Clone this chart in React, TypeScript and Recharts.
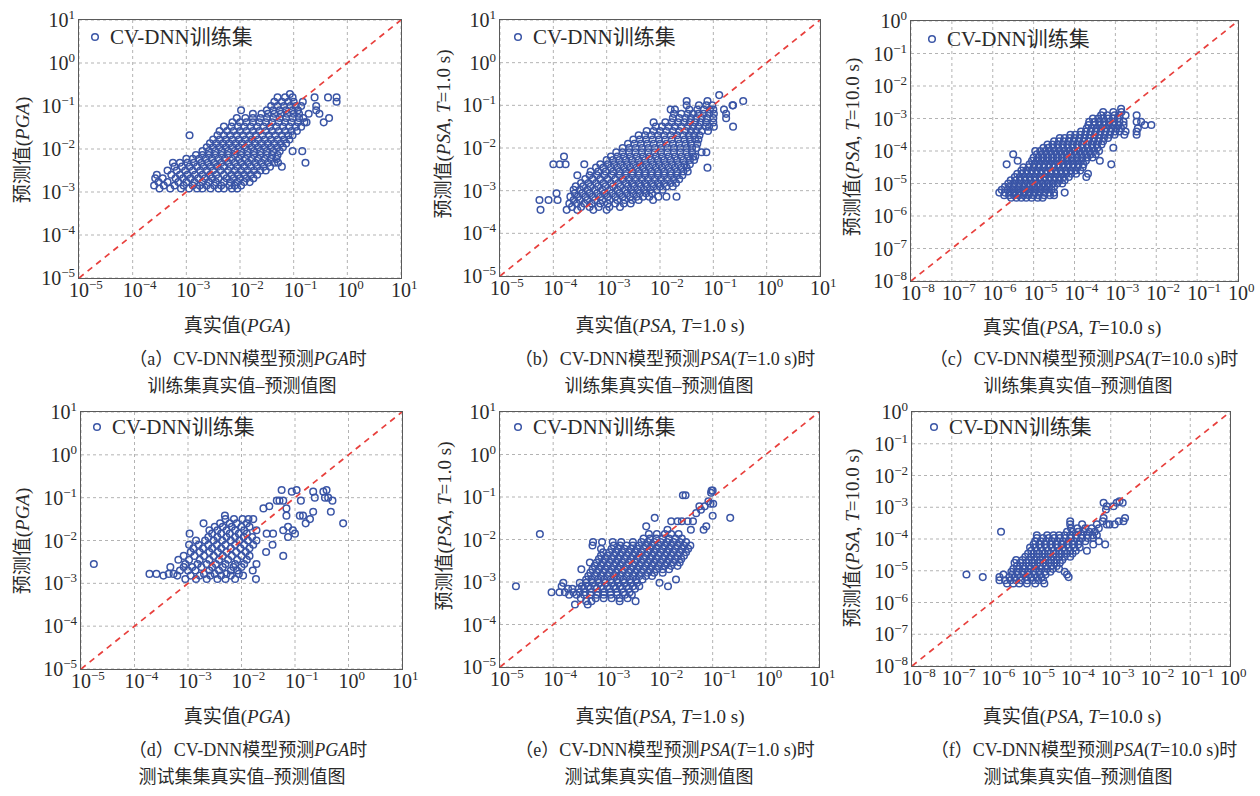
import React from "react";
import { ScatterChart, Scatter, XAxis, YAxis, CartesianGrid } from "recharts";

type Row = [number, number[]];

// all values are log10 exponents: [predicted, [true, true, ...]]
const trainPgaRows: Row[] = [
  [-2.92, [-3.5, -3.3, -3.1, -2.95, -2.8, -2.7, -2.55, -2.4, -2.3, -2.15, -2.05]],
  [-2.85, [-3.6, -3.42, -3.22, -3.05, -2.88, -2.75, -2.62, -2.48, -2.35, -2.2, -2.1, -1.98]],
  [-2.77, [-3.52, -3.35, -3.15, -3.0, -2.85, -2.7, -2.58, -2.45, -2.3, -2.18, -2.05, -1.92, -1.82]],
  [-2.68, [-3.58, -3.44, -3.2, -3.06, -2.92, -2.78, -2.65, -2.52, -2.4, -2.25, -2.12, -2.0, -1.88, -1.75]],
  [-2.6, [-3.55, -3.28, -3.12, -2.98, -2.84, -2.7, -2.56, -2.44, -2.3, -2.16, -2.04, -1.92, -1.8, -1.68]],
  [-2.5, [-3.35, -3.18, -3.02, -2.88, -2.74, -2.62, -2.5, -2.36, -2.22, -2.1, -1.98, -1.86, -1.74, -1.62, -1.52]],
  [-2.41, [-3.22, -3.08, -2.94, -2.8, -2.68, -2.55, -2.42, -2.3, -2.18, -2.05, -1.92, -1.8, -1.68, -1.56, -1.44, -1.22]],
  [-2.32, [-3.25, -3.12, -2.98, -2.86, -2.72, -2.6, -2.48, -2.35, -2.22, -2.1, -1.98, -1.85, -1.72, -1.6, -1.48, -1.36, -1.29, -0.78]],
  [-2.23, [-3.0, -2.88, -2.76, -2.64, -2.52, -2.4, -2.28, -2.15, -2.02, -1.9, -1.78, -1.66, -1.54, -1.42, -1.32]],
  [-2.14, [-2.82, -2.7, -2.58, -2.46, -2.34, -2.22, -2.1, -1.98, -1.86, -1.74, -1.62, -1.5, -1.4, -1.3]],
  [-2.05, [-2.7, -2.58, -2.46, -2.34, -2.22, -2.1, -1.98, -1.86, -1.74, -1.62, -1.5, -1.38, -1.26, -1.02, -0.84]],
  [-1.96, [-2.62, -2.5, -2.38, -2.26, -2.14, -2.02, -1.9, -1.78, -1.66, -1.54, -1.42, -1.3, -1.2]],
  [-1.87, [-2.56, -2.44, -2.32, -2.2, -2.08, -1.96, -1.84, -1.72, -1.6, -1.48, -1.36, -1.24, -1.14]],
  [-1.78, [-2.5, -2.38, -2.26, -2.14, -2.02, -1.9, -1.78, -1.66, -1.54, -1.42, -1.3, -1.18, -1.08]],
  [-1.68, [-2.94, -2.42, -2.3, -2.18, -2.06, -1.94, -1.82, -1.7, -1.58, -1.46, -1.34, -1.22, -1.1, -1.02]],
  [-1.58, [-2.38, -2.24, -2.12, -2.0, -1.88, -1.76, -1.64, -1.52, -1.4, -1.28, -1.16, -1.04, -0.94]],
  [-1.48, [-2.3, -2.16, -2.04, -1.92, -1.8, -1.68, -1.56, -1.44, -1.32, -1.2, -1.08, -0.96, -0.86]],
  [-1.38, [-2.14, -2.0, -1.88, -1.76, -1.64, -1.52, -1.4, -1.28, -1.16, -1.04, -0.92, -0.8, -0.76, -0.44]],
  [-1.28, [-2.06, -1.9, -1.76, -1.62, -1.5, -1.38, -1.26, -1.14, -1.02, -0.9, -0.82, -0.34]],
  [-1.18, [-1.76, -1.6, -1.48, -1.36, -1.24, -1.12, -1.0, -0.9, -0.72, -0.52]],
  [-1.1, [-1.98, -1.5, -1.38, -1.26, -1.14, -1.02, -0.92, -0.58]],
  [-1.0, [-1.42, -1.3, -1.18, -1.06, -0.96, -0.86, -0.58]],
  [-0.9, [-1.36, -1.22, -1.1, -1.0, -0.83, -0.2]],
  [-0.8, [-1.3, -1.16, -1.02, -0.61, -0.36, -0.2]],
  [-0.72, [-1.07]],
];

const trainPsa1Rows: Row[] = [
  [-3.45, [-4.24, -3.75, -3.55, -3.25, -3.0]],
  [-3.38, [-3.65, -3.48, -3.32, -3.15, -2.95, -2.75]],
  [-3.3, [-3.7, -3.56, -3.42, -3.28, -3.12, -2.98, -2.84, -2.68, -2.55]],
  [-3.22, [-4.26, -4.09, -3.92, -3.62, -3.5, -3.36, -3.22, -3.08, -2.94, -2.8, -2.66, -2.52, -2.4, -2.13]],
  [-3.14, [-3.68, -3.54, -3.4, -3.26, -3.12, -2.98, -2.84, -2.7, -2.56, -2.44, -2.32, -2.2, -2.03, -1.88, -1.69]],
  [-3.06, [-3.94, -3.6, -3.46, -3.32, -3.18, -3.04, -2.9, -2.76, -2.62, -2.5, -2.38, -2.26, -2.15]],
  [-2.98, [-3.62, -3.5, -3.36, -3.22, -3.08, -2.94, -2.8, -2.66, -2.54, -2.42, -2.3, -2.18, -2.06, -1.95]],
  [-2.9, [-3.58, -3.44, -3.3, -3.16, -3.02, -2.88, -2.74, -2.6, -2.48, -2.36, -2.24, -2.12, -2.0, -1.88, -1.76]],
  [-2.82, [-3.48, -3.34, -3.2, -3.06, -2.92, -2.78, -2.64, -2.52, -2.4, -2.28, -2.16, -2.04, -1.92, -1.8, -1.7]],
  [-2.73, [-3.4, -3.26, -3.12, -2.98, -2.84, -2.7, -2.58, -2.46, -2.34, -2.22, -2.1, -1.98, -1.86, -1.74, -1.64]],
  [-2.64, [-3.55, -3.32, -3.18, -3.04, -2.9, -2.76, -2.64, -2.52, -2.4, -2.28, -2.16, -2.04, -1.92, -1.8, -1.68, -1.58]],
  [-2.55, [-3.3, -3.16, -3.02, -2.88, -2.76, -2.64, -2.52, -2.4, -2.28, -2.16, -2.04, -1.92, -1.8, -1.68, -1.56, -1.48]],
  [-2.46, [-3.2, -3.06, -2.92, -2.8, -2.68, -2.56, -2.44, -2.32, -2.2, -2.08, -1.96, -1.84, -1.72, -1.6, -1.5, -1.11]],
  [-2.38, [-4.0, -3.88, -3.77, -3.42, -3.12, -2.98, -2.86, -2.74, -2.62, -2.5, -2.38, -2.26, -2.14, -2.02, -1.9, -1.78, -1.66, -1.54, -1.44]],
  [-2.28, [-3.0, -2.88, -2.76, -2.64, -2.52, -2.4, -2.28, -2.16, -2.04, -1.92, -1.8, -1.68, -1.56, -1.44, -1.36]],
  [-2.2, [-3.8, -2.92, -2.8, -2.68, -2.56, -2.44, -2.32, -2.2, -2.08, -1.96, -1.84, -1.72, -1.6, -1.48, -1.38, -1.34]],
  [-2.1, [-2.82, -2.7, -2.58, -2.46, -2.34, -2.22, -2.1, -1.98, -1.86, -1.74, -1.62, -1.5, -1.4, -1.22, -1.13]],
  [-2.0, [-2.7, -2.58, -2.46, -2.34, -2.22, -2.1, -1.98, -1.86, -1.74, -1.62, -1.5, -1.4, -1.32]],
  [-1.9, [-2.6, -2.48, -2.36, -2.24, -2.12, -2.0, -1.88, -1.76, -1.64, -1.52, -1.42, -1.3]],
  [-1.8, [-2.5, -2.38, -2.26, -2.14, -2.02, -1.9, -1.78, -1.66, -1.54, -1.44, -1.34, -1.28]],
  [-1.7, [-2.4, -2.28, -2.16, -2.04, -1.92, -1.8, -1.68, -1.56, -1.46, -1.36, -1.26]],
  [-1.6, [-2.25, -2.12, -2.0, -1.88, -1.76, -1.64, -1.52, -1.42, -1.32, -1.22, -1.1]],
  [-1.5, [-2.08, -1.96, -1.84, -1.72, -1.6, -1.48, -1.38, -1.28, -1.14, -1.08, -0.99, -0.63]],
  [-1.4, [-2.12, -1.9, -1.78, -1.66, -1.54, -1.44, -1.34, -1.24, -1.14, -1.0]],
  [-1.3, [-1.76, -1.64, -1.52, -1.42, -1.32, -1.22, -1.12, -1.0, -0.76]],
  [-1.2, [-1.74, -1.6, -1.48, -1.38, -1.28, -1.18, -1.08, -0.99, -0.76]],
  [-1.1, [-1.8, -1.72, -1.45, -1.3, -1.18, -1.06, -1.0, -0.8]],
  [-1.0, [-1.5, -1.27, -1.13, -1.02, -0.64, -0.63]],
  [-0.9, [-1.5, -1.11, -0.44]],
  [-0.76, [-0.89]],
];

const trainPsa10Rows: Row[] = [
  [-5.44, [-5.55, -5.42, -5.3, -5.18, -5.05, -4.9, -4.78]],
  [-5.36, [-5.72, -5.6, -5.48, -5.36, -5.24, -5.12, -5.0, -4.88, -4.74, -4.6, -4.5]],
  [-5.28, [-5.84, -5.7, -5.58, -5.46, -5.34, -5.22, -5.1, -4.98, -4.86, -4.74, -4.62, -4.5, -4.24]],
  [-5.19, [-5.78, -5.64, -5.52, -5.4, -5.28, -5.16, -5.04, -4.92, -4.8, -4.68, -4.56]],
  [-5.1, [-5.7, -5.58, -5.46, -5.34, -5.22, -5.1, -4.98, -4.86, -4.74, -4.62, -4.5]],
  [-5.0, [-5.62, -5.5, -5.38, -5.26, -5.14, -5.02, -4.9, -4.78, -4.66, -4.54, -4.42, -4.3]],
  [-4.9, [-5.56, -5.44, -5.32, -5.2, -5.08, -4.96, -4.84, -4.72, -4.6, -4.48, -4.36, -4.24]],
  [-4.8, [-5.46, -5.34, -5.22, -5.1, -4.98, -4.86, -4.74, -4.62, -4.5, -4.38, -4.26, -4.14, -3.71]],
  [-4.7, [-5.4, -5.28, -5.16, -5.04, -4.92, -4.8, -4.68, -4.56, -4.44, -4.32, -4.2, -4.08, -3.96, -3.67]],
  [-4.6, [-5.3, -5.18, -5.06, -4.94, -4.82, -4.7, -4.58, -4.46, -4.34, -4.22, -4.1, -3.98, -3.86]],
  [-4.5, [-5.25, -5.12, -5.0, -4.88, -4.76, -4.64, -4.52, -4.4, -4.28, -4.16, -4.04, -3.92, -3.8]],
  [-4.41, [-5.66, -5.1, -4.98, -4.86, -4.74, -4.62, -4.5, -4.38, -4.26, -4.14, -4.02, -3.9, -3.78, -3.1]],
  [-4.3, [-5.39, -5.04, -4.92, -4.8, -4.68, -4.56, -4.44, -4.32, -4.2, -4.08, -3.96, -3.84, -3.72, -3.38]],
  [-4.2, [-5.0, -4.88, -4.76, -4.64, -4.52, -4.4, -4.28, -4.16, -4.04, -3.92, -3.8, -3.68, -3.56]],
  [-4.1, [-5.5, -4.92, -4.8, -4.68, -4.56, -4.44, -4.32, -4.2, -4.08, -3.96, -3.84, -3.72, -3.6, -3.48]],
  [-4.0, [-4.96, -4.84, -4.72, -4.6, -4.48, -4.36, -4.24, -4.12, -4.0, -3.88, -3.76, -3.64, -3.52, -3.4]],
  [-3.9, [-4.76, -4.64, -4.52, -4.4, -4.28, -4.16, -4.04, -3.92, -3.8, -3.68, -3.56, -3.44, -3.05]],
  [-3.8, [-4.66, -4.54, -4.42, -4.3, -4.18, -4.06, -3.94, -3.82, -3.7, -3.58, -3.46, -3.34]],
  [-3.7, [-4.5, -4.38, -4.26, -4.14, -4.02, -3.9, -3.78, -3.66, -3.54, -3.42, -3.3]],
  [-3.6, [-4.36, -4.24, -4.12, -4.0, -3.88, -3.76, -3.64, -3.52, -3.4, -3.28, -3.18]],
  [-3.5, [-4.1, -3.98, -3.86, -3.74, -3.62, -3.5, -3.38, -3.26, -3.14, -3.02, -2.78, -2.48]],
  [-3.4, [-3.84, -3.72, -3.6, -3.48, -3.36, -3.24, -3.12, -3.0, -2.9, -2.75, -2.48]],
  [-3.3, [-3.7, -3.58, -3.46, -3.34, -3.22, -3.1, -2.98, -2.86, -2.45]],
  [-3.2, [-3.66, -3.52, -3.4, -3.28, -3.16, -3.04, -2.92, -2.8, -2.28, -2.12]],
  [-3.1, [-3.64, -3.5, -3.38, -3.26, -3.14, -3.02, -2.9, -2.8, -2.48, -2.37]],
  [-3.0, [-3.55, -3.42, -3.3, -3.18, -3.06, -2.94]],
  [-2.9, [-3.35, -3.2, -3.02, -2.9, -2.75, -2.48]],
  [-2.8, [-3.3, -3.05, -2.85]],
  [-2.7, [-2.86]],
];

const testPgaRows: Row[] = [
  [-2.9, [-3.05, -2.85, -2.65, -2.45, -2.3, -2.12, -1.73]],
  [-2.82, [-3.46, -3.2, -2.95, -2.78, -2.58, -2.38, -2.2, -1.97]],
  [-2.78, [-3.72, -3.59, -3.36, -3.27, -2.7, -2.5, -2.28, -2.05]],
  [-2.7, [-3.15, -3.0, -2.86, -2.6, -2.42, -2.2, -2.08, -1.79]],
  [-2.62, [-3.33, -3.08, -2.92, -2.75, -2.55, -2.35, -2.15, -2.0]],
  [-2.55, [-4.76, -3.05, -2.82, -2.65, -2.48, -2.3, -2.12, -1.95, -1.72]],
  [-2.45, [-3.18, -2.98, -2.78, -2.6, -2.42, -2.25, -2.08, -1.9]],
  [-2.36, [-3.08, -2.88, -2.7, -2.52, -2.35, -2.18, -2.0, -1.85, -1.22]],
  [-2.27, [-2.95, -2.78, -2.6, -2.44, -2.28, -2.1, -1.92, -1.54]],
  [-2.18, [-2.9, -2.72, -2.55, -2.38, -2.2, -2.02, -1.85]],
  [-2.1, [-2.98, -2.8, -2.62, -2.46, -2.3, -2.12, -1.95, -1.78, -1.42]],
  [-2.0, [-2.85, -2.68, -2.52, -2.36, -2.2, -2.04, -1.88, -1.72]],
  [-1.92, [-2.62, -2.45, -2.28, -2.12, -1.96, -1.8, -1.13]],
  [-1.84, [-2.97, -2.55, -2.38, -2.22, -2.05, -1.9, -1.53, -1.41, -1.0]],
  [-1.76, [-2.6, -2.45, -2.28, -2.12, -1.95, -1.72, -1.22, -1.04]],
  [-1.68, [-2.5, -2.35, -2.18, -2.0, -1.85, -1.13]],
  [-1.6, [-2.71, -2.4, -2.22, -2.09, -1.9, -0.8, -0.1]],
  [-1.5, [-2.3, -2.14, -1.98, -1.87, -1.78, -0.72]],
  [-1.42, [-2.31, -1.16, -0.91, -0.85]],
  [-1.33, [-0.66, -0.33]],
  [-1.25, [-1.59, -1.16]],
  [-1.2, [-1.48]],
  [-1.07, [-1.34, -1.29, -1.22, -0.89, -0.3]],
  [-1.0, [-0.63, -0.44, -0.38]],
  [-0.86, [-1.06, -0.66, -0.47]],
  [-0.82, [-1.25, -0.97, -0.41]],
];

const testPsa1Rows: Row[] = [
  [-3.53, [-3.59, -3.35]],
  [-3.45, [-3.38, -3.28, -2.75, -2.45]],
  [-3.38, [-3.48, -3.2, -3.05, -2.9, -2.75, -2.6]],
  [-3.3, [-3.7, -3.56, -3.42, -3.3, -3.18, -3.05, -2.92, -2.8, -2.65, -2.52]],
  [-3.24, [-4.03, -3.88, -3.78, -3.62, -3.5, -3.4, -3.28, -3.16, -3.04, -2.92, -2.8, -2.68, -2.56]],
  [-3.16, [-3.72, -3.64, -3.52, -3.42, -3.3, -3.18, -3.06, -2.94, -2.82, -2.7, -2.58, -2.46]],
  [-3.1, [-4.7, -3.84, -3.46, -3.34, -3.22, -3.1, -2.98, -2.86, -2.74, -2.62, -2.5, -2.38, -1.84]],
  [-3.02, [-3.81, -3.5, -3.38, -3.26, -3.14, -3.02, -2.9, -2.78, -2.66, -2.54, -2.42, -2.0]],
  [-2.94, [-3.38, -3.28, -3.16, -3.04, -2.92, -2.8, -2.68, -2.56, -2.44, -2.32, -1.69]],
  [-2.86, [-3.34, -3.22, -3.1, -2.98, -2.86, -2.74, -2.62, -2.5, -2.38, -2.26, -2.14]],
  [-2.78, [-3.3, -3.18, -3.06, -2.94, -2.82, -2.7, -2.58, -2.46, -2.34, -2.22, -2.1, -1.94]],
  [-2.7, [-3.47, -3.26, -3.14, -3.02, -2.9, -2.78, -2.66, -2.54, -2.42, -2.3, -2.18, -2.06, -1.94, -1.82]],
  [-2.62, [-3.22, -3.1, -2.98, -2.86, -2.74, -2.62, -2.5, -2.38, -2.26, -2.14, -2.02, -1.9, -1.78, -1.66]],
  [-2.54, [-3.31, -3.18, -3.06, -2.94, -2.82, -2.7, -2.58, -2.46, -2.34, -2.22, -2.1, -1.98, -1.86, -1.74, -1.62]],
  [-2.46, [-3.14, -3.02, -2.9, -2.78, -2.66, -2.54, -2.42, -2.3, -2.18, -2.06, -1.94, -1.82, -1.7, -1.59]],
  [-2.38, [-3.1, -2.98, -2.86, -2.74, -2.62, -2.5, -2.38, -2.26, -2.14, -2.02, -1.9, -1.78, -1.66, -1.54]],
  [-2.3, [-3.06, -2.94, -2.82, -2.7, -2.58, -2.46, -2.34, -2.22, -2.1, -1.98, -1.86, -1.74, -1.62, -1.5]],
  [-2.22, [-3.1, -2.9, -2.78, -2.66, -2.54, -2.42, -2.3, -2.18, -2.06, -1.94, -1.82, -1.7, -1.58, -1.46]],
  [-2.14, [-3.26, -2.86, -2.74, -2.62, -2.5, -2.38, -2.26, -2.14, -2.02, -1.9, -1.78, -1.66, -1.54, -1.42]],
  [-2.06, [-3.25, -3.08, -2.88, -2.72, -2.5, -2.34, -2.22, -2.1, -1.98, -1.86, -1.74, -1.62, -1.5]],
  [-1.98, [-2.3, -2.18, -2.06, -1.94, -1.82, -1.7, -1.58]],
  [-1.87, [-4.25, -2.2, -2.05, -1.9, -1.78, -1.64]],
  [-1.77, [-1.85, -1.41, -1.17]],
  [-1.69, [-2.25, -1.12]],
  [-1.57, [-1.78, -1.66, -1.58, -1.47, -1.37]],
  [-1.49, [-2.09, -0.67]],
  [-1.44, [-1.0]],
  [-1.38, [-1.31]],
  [-1.3, [-1.22]],
  [-1.22, [-1.25, -1.15]],
  [-1.16, [-1.04, -0.99]],
  [-1.1, [-1.08]],
  [-0.96, [-1.56, -1.51]],
  [-0.9, [-1.03]],
  [-0.85, [-1.0, -1.02]],
];

const testPsa10Rows: Row[] = [
  [-5.4, [-5.61, -5.45, -5.3, -5.11, -4.9, -4.67]],
  [-5.3, [-5.8, -5.66, -5.52, -5.38, -5.24, -5.1, -4.96, -4.82, -4.7]],
  [-5.2, [-6.22, -5.8, -5.55, -5.42, -5.28, -5.14, -5.0, -4.86, -4.74, -4.06]],
  [-5.12, [-6.63, -5.7, -5.48, -5.34, -5.2, -5.06, -4.92, -4.78, -4.64, -4.1]],
  [-5.03, [-5.5, -5.36, -5.22, -5.08, -4.94, -4.8, -4.66, -4.52, -4.16]],
  [-4.94, [-5.45, -5.3, -5.16, -5.02, -4.88, -4.74, -4.6, -4.46, -4.3]],
  [-4.85, [-5.36, -5.2, -5.06, -4.92, -4.78, -4.64, -4.5, -4.36]],
  [-4.75, [-5.42, -5.28, -5.12, -4.98, -4.84, -4.7, -4.56, -4.42, -4.28]],
  [-4.66, [-5.38, -5.22, -5.06, -4.92, -4.78, -4.64, -4.5, -4.36, -4.22]],
  [-4.56, [-5.15, -5.0, -4.86, -4.72, -4.58, -4.44, -4.3, -4.16, -4.02]],
  [-4.46, [-5.08, -4.94, -4.8, -4.66, -4.52, -4.38, -4.24, -4.1, -3.96]],
  [-4.37, [-5.0, -4.86, -4.72, -4.58, -4.44, -4.3, -4.16, -4.02, -3.88, -3.6]],
  [-4.27, [-5.03, -4.9, -4.76, -4.62, -4.48, -4.34, -4.2, -4.06, -3.92, -3.78]],
  [-4.17, [-4.94, -4.8, -4.66, -4.52, -4.38, -4.24, -4.1, -3.96, -3.82, -3.44, -3.14]],
  [-4.07, [-4.9, -4.76, -4.62, -4.48, -4.34, -4.2, -4.06, -3.92, -3.78, -3.64, -3.3]],
  [-3.97, [-4.86, -4.7, -4.56, -4.42, -4.28, -4.14, -4.0, -3.86, -3.72, -3.58, -3.44]],
  [-3.88, [-4.86, -4.6, -4.44, -4.3, -4.16, -4.02, -3.88, -3.74, -3.6, -3.46, -3.35]],
  [-3.77, [-5.76, -4.1, -3.96, -3.82, -3.68, -3.54, -3.4]],
  [-3.66, [-4.0, -3.84, -3.64, -3.48, -3.3]],
  [-3.54, [-4.02, -3.72, -3.35, -3.1, -3.03, -2.9]],
  [-3.44, [-4.02, -3.2, -2.8, -2.68]],
  [-3.34, [-3.18, -2.64]],
  [-3.07, [-3.12]],
  [-2.97, [-3.1, -2.93]],
  [-2.86, [-3.18, -2.85, -2.7]],
  [-2.81, [-2.78]],
];

const decadesPga = [-5, -4, -3, -2, -1, 0, 1];
const decadesPsa10 = [-8, -7, -6, -5, -4, -3, -2, -1, 0];
const legendText = "CV-DNN训练集";

const SERIF = '"Liberation Serif", "Times New Roman", "Noto Sans CJK SC", serif';
const TEXT = "#2a2a2a";
const MARK = "#3a55a6";
const DIAG = "#e8403d";
const RING_R = 3.3;
const RING_W = 1.5;

const toPoints = (rows: Row[]) =>
  rows.flatMap(([ly, xs]) => xs.map((lx) => ({ x: Math.pow(10, lx), y: Math.pow(10, ly) })));

const supText = (v: number) => {
  const e = Math.round(Math.log10(v));
  return e < 0 ? "\u2212" + -e : String(e);
};

const XTick = (props: any) => {
  const { x, y, payload } = props;
  return (
    <text x={x - 10} y={y + 19} fontFamily={SERIF} fontSize={20} fill={TEXT}>
      10<tspan dy={-8} fontSize={13}>{supText(payload.value)}</tspan>
    </text>
  );
};

const YTick = (props: any) => {
  const { x, y, payload } = props;
  return (
    <text x={x - 4} y={y + 7} textAnchor="end" fontFamily={SERIF} fontSize={20} fill={TEXT}>
      10<tspan dy={-8} fontSize={13}>{supText(payload.value)}</tspan>
    </text>
  );
};

const Ring = (props: any) => (
  <circle cx={props.cx} cy={props.cy} r={RING_R} fill="none" stroke={MARK} strokeWidth={RING_W} />
);

const NoDot = () => <g />;

const pgaLab = (
  <>
    (<i>PGA</i>)
  </>
);
const psa1Lab = (
  <>
    (<i>PSA</i>, <i>T</i>=1.0 s)
  </>
);
const psa10Lab = (
  <>
    (<i>PSA</i>, <i>T</i>=10.0 s)
  </>
);

const PANELS = [
  {
    rows: trainPgaRows, dec: decadesPga, box: { x: 79, y: 20, w: 322, h: 258 }, leg: { x: 95, y: 37 },
    yl: { x: 22, y: 150, t: pgaLab }, xl: { x: 237, y: 325, t: pgaLab },
    cap: { x: 248, y: 359, t1: <>（a）CV-DNN模型预测<i>PGA</i>时</>, t2: "训练集真实值–预测值图" },
  },
  {
    rows: trainPsa1Rows, dec: decadesPga, box: { x: 500, y: 20, w: 320, h: 256 }, leg: { x: 518, y: 37 },
    yl: { x: 443, y: 134, t: psa1Lab }, xl: { x: 660, y: 325, t: psa1Lab },
    cap: { x: 665, y: 359, t1: <>（b）CV-DNN模型预测<i>PSA</i>(<i>T</i>=1.0 s)时</>, t2: "训练集真实值–预测值图" },
  },
  {
    rows: trainPsa10Rows, dec: decadesPsa10, box: { x: 911, y: 21, w: 327, h: 260 }, leg: { x: 932, y: 39 },
    yl: { x: 852, y: 147, t: psa10Lab }, xl: { x: 1072, y: 327, t: psa10Lab },
    cap: { x: 1084, y: 359, t1: <>（c）CV-DNN模型预测<i>PSA</i>(<i>T</i>=10.0 s)时</>, t2: "训练集真实值–预测值图" },
  },
  {
    rows: testPgaRows, dec: decadesPga, box: { x: 81, y: 412, w: 321, h: 257 }, leg: { x: 97, y: 427 },
    yl: { x: 22, y: 541, t: pgaLab }, xl: { x: 237, y: 716, t: pgaLab },
    cap: { x: 248, y: 750, t1: <>（d）CV-DNN模型预测<i>PGA</i>时</>, t2: "测试集集真实值–预测值图" },
  },
  {
    rows: testPsa1Rows, dec: decadesPga, box: { x: 500, y: 412, w: 319, h: 255 }, leg: { x: 518, y: 427 },
    yl: { x: 444, y: 526, t: psa1Lab }, xl: { x: 660, y: 716, t: psa1Lab },
    cap: { x: 665, y: 750, t1: <>（e）CV-DNN模型预测<i>PSA</i>(<i>T</i>=1.0 s)时</>, t2: "测试集真实值–预测值图" },
  },
  {
    rows: testPsa10Rows, dec: decadesPsa10, box: { x: 912, y: 412, w: 318, h: 254 }, leg: { x: 934, y: 427 },
    yl: { x: 852, y: 538, t: psa10Lab }, xl: { x: 1072, y: 716, t: psa10Lab },
    cap: { x: 1084, y: 750, t1: <>（f）CV-DNN模型预测<i>PSA</i>(<i>T</i>=10.0 s)时</>, t2: "测试集真实值–预测值图" },
  },
];

const YW = 60, XH = 32, MT = 26, MR = 30;

function Panel({ p }: { p: (typeof PANELS)[number] }) {
  const ticks = p.dec.map((d) => Math.pow(10, d));
  const lo = ticks[0], hi = ticks[ticks.length - 1];
  const diag = [{ x: lo, y: lo }, { x: hi, y: hi }];
  const pts = toPoints(p.rows);
  const b = p.box;
  return (
    <>
      <div style={{ position: "absolute", left: b.x - YW, top: b.y - MT }}>
        <ScatterChart width={YW + b.w + MR} height={MT + b.h + XH} margin={{ top: MT, right: MR, left: 0, bottom: 0 }}>
          <CartesianGrid stroke="#b3b3b3" strokeDasharray="3 3" />
          <XAxis type="number" dataKey="x" scale="log" domain={[lo, hi]} ticks={ticks} allowDataOverflow
            height={XH} tickSize={0} tickMargin={0} axisLine={false} tickLine={false} tick={<XTick />} interval={0} />
          <YAxis type="number" dataKey="y" scale="log" domain={[lo, hi]} ticks={ticks} allowDataOverflow
            width={YW} tickSize={0} tickMargin={0} axisLine={false} tickLine={false} tick={<YTick />} interval={0} />
          <Scatter data={pts} shape={Ring} isAnimationActive={false} />
          <Scatter data={diag} shape={NoDot} isAnimationActive={false}
            line={{ stroke: DIAG, strokeWidth: 1.7, strokeDasharray: "6 5" }} />
        </ScatterChart>
      </div>
      <div style={{ position: "absolute", left: b.x - 1, top: b.y - 1, width: b.w + 2, height: b.h + 2,
        border: "1.5px solid #5a5a5a", boxSizing: "border-box", pointerEvents: "none" }} />
      <svg style={{ position: "absolute", left: p.leg.x - 6, top: p.leg.y - 6 }} width={12} height={12}>
        <circle cx={6} cy={6} r={RING_R} fill="none" stroke={MARK} strokeWidth={RING_W} />
      </svg>
      <div style={{ position: "absolute", left: p.leg.x + 15, top: p.leg.y, transform: "translateY(-50%)",
        fontSize: 21, whiteSpace: "nowrap", lineHeight: 1 }}>{legendText}</div>
      <div style={{ position: "absolute", left: p.yl.x, top: p.yl.y, transform: "translate(-50%,-50%) rotate(-90deg)",
        fontSize: 19, whiteSpace: "nowrap", lineHeight: 1 }}>预测值{p.yl.t}</div>
      <div style={{ position: "absolute", left: p.xl.x, top: p.xl.y, transform: "translate(-50%,-50%)",
        fontSize: 19, whiteSpace: "nowrap", lineHeight: 1 }}>真实值{p.xl.t}</div>
      <div style={{ position: "absolute", left: p.cap.x, top: p.cap.y, transform: "translate(-50%,-50%)",
        fontSize: 18, whiteSpace: "nowrap", lineHeight: 1 }}>{p.cap.t1}</div>
      <div style={{ position: "absolute", left: p.cap.x - 6, top: p.cap.y + 27, transform: "translate(-50%,-50%)",
        fontSize: 18, whiteSpace: "nowrap", lineHeight: 1 }}>{p.cap.t2}</div>
    </>
  );
}

export default function App() {
  return (
    <div style={{ position: "absolute", left: 0, top: 0, width: 1260, height: 796, background: "#fff",
      fontFamily: SERIF, color: TEXT, overflow: "hidden" }}>
      {PANELS.map((p, i) => (
        <Panel key={i} p={p} />
      ))}
    </div>
  );
}
